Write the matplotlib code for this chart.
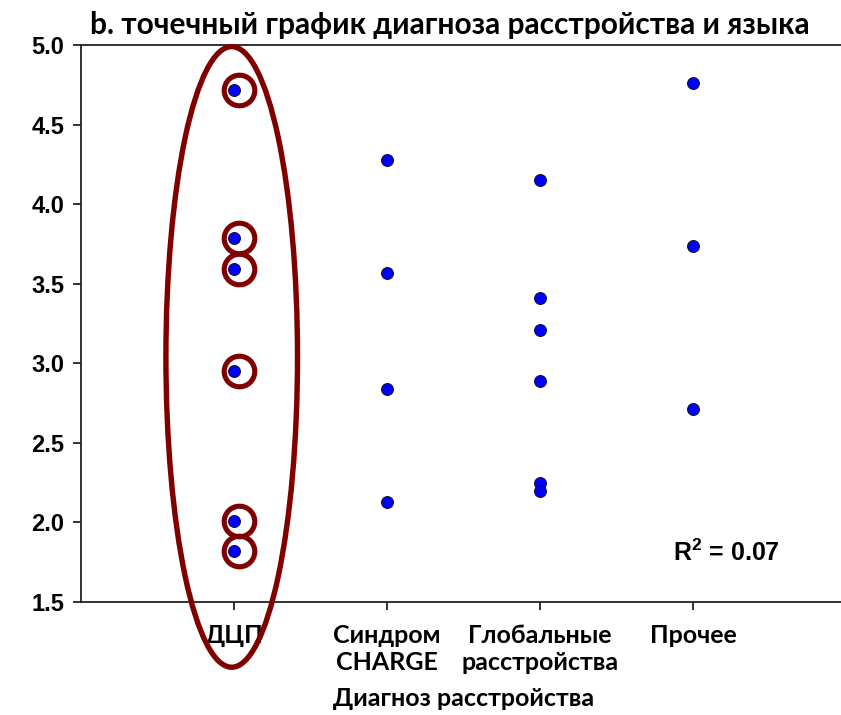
import matplotlib
matplotlib.use("Agg")
import matplotlib.pyplot as plt
from matplotlib.patches import Ellipse

# данные
categories = ["ДЦП", "Синдром\nCHARGE", "Глобальные\nрасстройства", "Прочее"]
dcp = [4.72, 3.79, 3.59, 2.95, 2.01, 1.82]
charge = [4.28, 3.57, 2.84, 2.13]
global_dis = [4.15, 3.41, 3.21, 2.89, 2.25, 2.20]
other = [4.76, 3.74, 2.71]
yticks = [1.5, 2.0, 2.5, 3.0, 3.5, 4.0, 4.5, 5.0]

narrow = ["Lato", "Roboto", "DejaVu Sans"]
plt.rcParams["font.family"] = ["Liberation Sans", "DejaVu Sans"]
plt.rcParams["mathtext.fontset"] = "custom"
plt.rcParams["mathtext.bf"] = "Liberation Sans:bold"
plt.rcParams["mathtext.rm"] = "Liberation Sans:bold"

fig = plt.figure(figsize=(8.41, 7.15), dpi=100)
ax = fig.add_axes([81 / 841, 113 / 715, 765 / 841, 557 / 715])

groups = [dcp, charge, global_dis, other]
for i, vals in enumerate(groups):
    ax.plot([i + 1] * len(vals), vals, "o", ms=8.5, mfc="#0000ff",
            mec="#101030", mew=0.8, zorder=4, clip_on=False)

# кольца вокруг точек ДЦП
ax.plot([1.035] * len(dcp), dcp, "o", ms=22, mfc="none", mec="#800000",
        mew=3.7, zorder=3, clip_on=False)

# овал вокруг группы ДЦП
ell = Ellipse((0.985, 3.04), 0.86, 3.9, fill=False, ec="#800000",
              lw=3.9, zorder=5, clip_on=False)
ax.add_patch(ell)

ax.set_xlim(0, 5)
ax.set_ylim(1.5, 5.0)
ax.set_yticks(yticks)
ax.set_yticklabels([f"{v:.1f}" for v in yticks], fontsize=17,
                   fontweight="bold")
ax.set_xticks([1, 2, 3, 4])
ax.set_xticklabels(categories, fontsize=18, fontweight="bold",
                   family=narrow, linespacing=1.2, va="top")
ax.tick_params(axis="both", direction="out", length=6, width=1.3,
               color="#222222")
ax.tick_params(axis="y", pad=6)
ax.tick_params(axis="x", pad=10)

for s in ["left", "bottom", "top"]:
    ax.spines[s].set_linewidth(1.3)
    ax.spines[s].set_color("#222222")
ax.spines["right"].set_visible(False)

ax.set_xlabel("Диагноз расстройства", fontsize=18, fontweight="bold",
              family=narrow, labelpad=9)
ax.set_title("b. точечный график диагноза расстройства и языка",
             fontsize=21.5, fontweight="bold", family=narrow, pad=8,
             x=(450 - 81) / 765)

ax.text(4.22, 1.81, r"$\mathbf{R^{2}}$ = 0.07", fontsize=18,
        fontweight="bold", ha="center", va="center")

fig.savefig("out.png", dpi=100)
